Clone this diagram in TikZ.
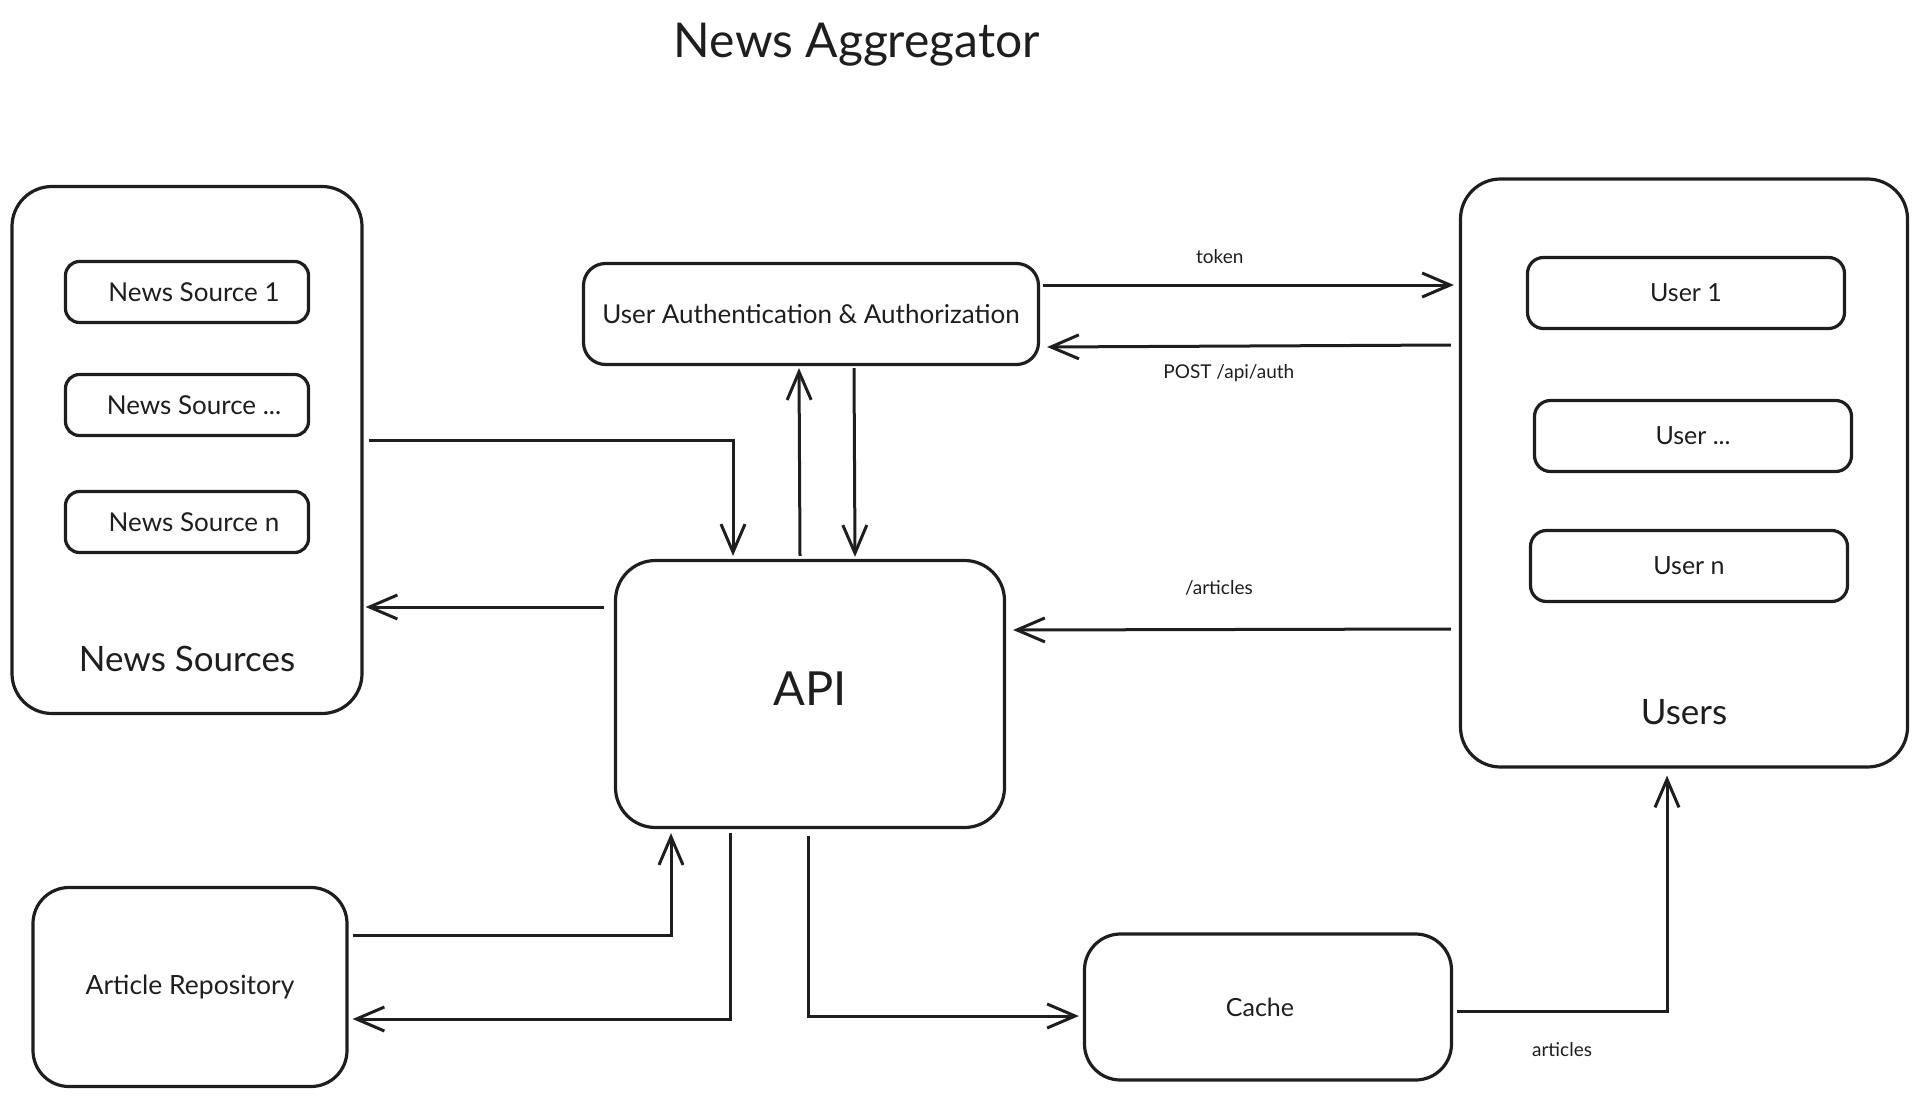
\documentclass[tikz,border=0pt]{standalone}
\usepackage{fontspec}
\setmainfont{Lato}
\usetikzlibrary{positioning,arrows.meta}

\definecolor{ink}{HTML}{1E1E1E}
\tikzset{
  box/.style={draw, line width=3.2pt, rounded corners=#1, inner sep=0pt, align=center},
  box/.default=16pt,
  srcitem/.style={box=14pt, minimum width=243pt, minimum height=61pt, font=\fontsize{26}{29}\selectfont},
  usritem/.style={box=16pt, minimum width=317pt, minimum height=71pt, font=\fontsize{25}{28}\selectfont},
  arr/.style={line width=3pt, -{Straight Barb[length=28pt,width=24pt,line width=3pt]}},
  lbl/.style={font=\fontsize{19}{22}\selectfont, inner sep=0pt}
}

\begin{document}
\begin{tikzpicture}[x=1pt,y=-1pt,node distance=115pt,on grid,color=ink,text=ink]
   \useasboundingbox (0,0) rectangle (1920,1100);
   \node (title) at (857,45) {\fontsize{48}{52}\selectfont News Aggregator};

   % news sources
   \node[box=40pt, minimum width=350pt, minimum height=527pt] (src) at (187,450) {};
   \node[srcitem] (src_1) at (187,292) {\hspace*{14pt}News Source 1};
   \node[srcitem] (src_2) [below=113pt of src_1] {\hspace*{14pt}News Source ...};
   \node[srcitem] (src_n) [below=117pt of src_2] {\hspace*{14pt}News Source n};
   \node[font=\fontsize{35}{40}\selectfont] (src_lbl) [above=40pt of src.south] {News Sources};

   % users
   \node[box=40pt, minimum width=447pt, minimum height=588pt] (usr) at (1684,473) {};
   \node[usritem] (usr_1) at (1686,293) {User 1};
   \node[usritem] (usr_2) [below=143pt of usr_1, xshift=7pt] {User ...};
   \node[usritem] (usr_n) [below=130pt of usr_2, xshift=-4pt] {User n};
   \node[font=\fontsize{35}{40}\selectfont] (usr_lbl) [above=40pt of usr.south] {Users};

   \node[box=22pt, minimum width=455pt, minimum height=101pt, font=\fontsize{26}{30}\selectfont] (auth) at (811,314) {User Authentication \& Authorization};
   \node[box=40pt, minimum width=389pt, minimum height=267pt, font=\fontsize{47}{50}\selectfont] (api) at (810,694) {\raisebox{10pt}{API}};
   \node[box=36pt, minimum width=314pt, minimum height=199pt, font=\fontsize{26.5}{30}\selectfont] (repo) at (190,987) {Article Repository};
   \node[box=36pt, minimum width=367pt, minimum height=146pt, font=\fontsize{25}{28}\selectfont] (cache) at (1268,1007) {Cache\hspace*{16pt}};

   \path[arr]
    ([xshift=-10pt,yshift=87pt]api.west) edge ([xshift=2pt,yshift=-157pt]src.east)
    ([xshift=-10pt,yshift=3pt]api.north) edge ([xshift=-12pt,yshift=-2pt]auth.south)
    ([xshift=43pt,yshift=-2pt]auth.south) edge ([xshift=45pt,yshift=2pt]api.north)
    ([xshift=3pt,yshift=29pt]auth.east) edge node[lbl, above=20pt, pos=.43] {token} ([xshift=-5pt,yshift=188pt]usr.west)
    ([xshift=-8pt,yshift=128pt]usr.west) edge node[lbl, below=17pt, pos=.55] {POST /api/auth} ([xshift=7pt,yshift=-33pt]auth.east)
    ([xshift=-8pt,yshift=-156pt]usr.west) edge node[lbl, above=33pt, pos=.53] {/articles} ([xshift=7pt,yshift=64pt]api.east);

   \draw[arr] ([xshift=5pt,yshift=10pt]src.east) -| ([xshift=-77pt,yshift=3pt]api.north);
   \draw[arr] ([xshift=4pt,yshift=52pt]repo.east) -| ([xshift=-139pt,yshift=-4pt]api.south);
   \draw[arr] ([xshift=-80pt,yshift=-4pt]api.south) |- ([xshift=4pt,yshift=-32pt]repo.east);
   \draw[arr] ([xshift=-2pt,yshift=-7pt]api.south) |- ([xshift=-4pt,yshift=-9pt]cache.west);
   \draw[arr] ([xshift=4pt,yshift=-4pt]cache.east) -| node[lbl, below=30pt, pos=.25] {articles} ([xshift=-17pt,yshift=-7pt]usr.south);
\end{tikzpicture}
\end{document}
